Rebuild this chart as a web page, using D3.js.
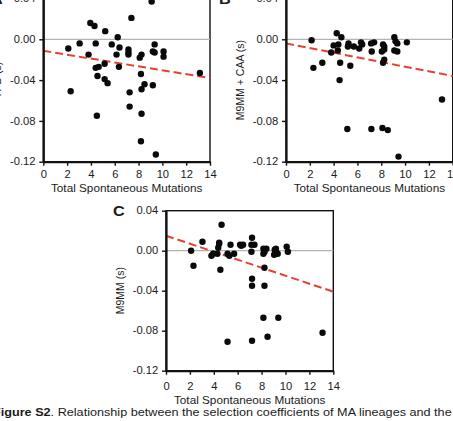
<!DOCTYPE html>
<html>
<head>
<meta charset="utf-8">
<script src="https://cdn.jsdelivr.net/npm/d3@7"></script>
<style>
    body { margin: 0; background: #fff; }
    svg { display: block; }
    text { font-family: "Liberation Sans", Arial, sans-serif; fill: #1b1b1b; }
</style>
</head>
<body>
<svg id="svg" width="453" height="421"></svg>
<script>

/**
 * DATA
 */
var xTicks = [0, 2, 4, 6, 8, 10, 12, 14];
var yTicks = [-0.12, -0.08, -0.04, 0, 0.04];
var xLabel = "Total Spontaneous Mutations";
var yLabels = ["YPD (s)", "M9MM + CAA (s)", "M9MM (s)"];
var panelLetters = ["A", "B", "C"];

// panel A
var mutationsA = [2.1, 2.3, 3.05, 3.8, 3.95, 4.3, 4.4, 4.4, 4.65, 4.55, 4.5, 5.15, 5.2, 5.15, 5.4, 5.75, 6.15, 6.25, 6.4, 6.35,
    7.4, 7.15, 7.15, 7.15, 7.25, 7.25, 8.1, 8.25, 8.2, 8.25, 8.5, 8.25, 8.2, 9.1, 9.2, 9.35, 9.35, 9.2, 9.45, 10.1, 10.1, 13.15];
var selectionA = [-0.009, -0.051, -0.004, -0.015, 0.016, 0.013, -0.004, -0.028, -0.027, -0.036, -0.075, -0.024, 0.008, -0.039, -0.043, -0.005, -0.015, 0.002, -0.008, -0.027,
    0.021, -0.010, -0.013, -0.015, -0.052, -0.066, -0.018, -0.015, -0.034, -0.049, -0.044, -0.073, -0.100, 0.037, -0.012, -0.005, -0.013, -0.045, -0.113, -0.012, -0.017, -0.033];
var fitA = [-0.0113, -0.038];

// panel B
var mutationsB = [2.15, 2.3, 3.05, 3.8, 4.0, 4.26, 4.4, 4.35, 4.65, 4.5, 4.55, 5.15, 5.2, 5.25, 5.4, 5.7, 6.15, 6.3, 6.4,
    7.15, 7.2, 7.4, 7.17, 8.1, 8.15, 8.25, 8.05, 8.25, 8.25, 8.15, 8.55, 9.1, 9.2, 9.35, 9.1, 9.35, 9.45, 10.15, 13.1];
var selectionB = [-0.001, -0.028, -0.023, -0.013, -0.006, 0.006, -0.005, -0.011, 0.002, -0.040, -0.023, -0.088, -0.007, -0.004, -0.026, -0.007, -0.009, -0.003, -0.005,
    -0.004, -0.012, -0.003, -0.088, -0.087, -0.005, -0.007, -0.012, -0.010, -0.020, -0.023, -0.089, 0.002, -0.002, -0.004, -0.011, -0.012, -0.115, -0.003, -0.059];
var fitB = [-0.004, -0.036];

// panel C
var mutationsC = [2.1, 2.3, 3.05, 3.8, 3.95, 4.3, 4.37, 4.45, 4.45, 4.65, 4.55, 5.15, 5.3, 5.4, 5.15, 5.7, 6.2, 6.3, 6.45,
    7.2, 7.15, 7.4, 7.15, 7.2, 7.2, 7.2, 8.15, 8.25, 8.15, 8.4, 8.24, 8.24, 8.15, 8.5, 9.1, 9.25, 9.05, 9.35, 9.2, 9.4, 10.1, 10.2, 13.1];
var selectionC = [0.000, -0.015, 0.009, -0.005, -0.003, -0.003, 0.003, 0.007, 0.008, 0.026, -0.019, -0.003, -0.005, 0.006, -0.091, -0.003, 0.006, 0.005, 0.006,
    0.013, 0.006, 0.006, -0.001, -0.028, -0.035, -0.090, 0.002, -0.001, -0.003, 0.002, -0.017, -0.035, -0.067, -0.086, 0.001, -0.002, -0.004, -0.003, 0.002, -0.067, 0.004, -0.001, -0.082];
var fitC = [0.015, -0.041];


/**
 * LAYOUT
 */
var svg = d3.select("#svg");
var stretch = 1.12;   // the scan is a bit wider than tall, so glyphs get widened

var panels = [
    { xs: mutationsA, ys: selectionA, fit: fitA, left: 43.3, right: 210, top: -1.5, bottom: 161.7, tickPad: 5, titleDy: 30, letterX: -9, letterY: 3.5 },
    { xs: mutationsB, ys: selectionB, fit: fitB, left: 286, right: 452.7, top: -1.5, bottom: 161.7, tickPad: 5, titleDy: 30, letterX: 219, letterY: 3.5 },
    { xs: mutationsC, ys: selectionC, fit: fitC, left: 166, right: 333.3, top: 210.7, bottom: 370.7, tickPad: 8, titleDy: 33.6, letterX: 113, letterY: 215.7 }
];


/* Draw one scatter panel */
function drawPanel(p, i) {
    var x = d3.scaleLinear().domain([0, 14]).range([p.left, p.right]);
    var y = d3.scaleLinear().domain([-0.12, 0.04]).range([p.bottom, p.top]);
    var g = svg.append("g");

    // frame
    g.append("rect")
        .attr("x", p.left).attr("y", p.top)
        .attr("width", p.right - p.left).attr("height", p.bottom - p.top)
        .attr("fill", "none").attr("stroke", "#111").attr("stroke-width", 1.4);

    // zero line
    g.append("line")
        .attr("x1", x(0)).attr("x2", x(14))
        .attr("y1", y(0)).attr("y2", y(0))
        .attr("stroke", "#b4b4b4").attr("stroke-width", 1.2);

    // regression
    g.append("line")
        .attr("x1", x(0)).attr("x2", x(14))
        .attr("y1", y(p.fit[0])).attr("y2", y(p.fit[1]))
        .attr("stroke", "#e8402e").attr("stroke-width", 2)
        .attr("stroke-dasharray", "8,4");

    // dots
    g.selectAll("circle")
        .data(p.xs.map(function(d, k) { return [d, p.ys[k]]; }))
        .enter().append("circle")
        .attr("cx", function(d) { return x(d[0]); })
        .attr("cy", function(d) { return y(d[1]); })
        .attr("r", 3.2)
        .attr("fill", "#0a0a0a");

    // axes
    var ax = g.append("g")
        .attr("transform", "translate(0," + p.bottom + ")")
        .call(d3.axisBottom(x).tickValues(xTicks).tickSize(4).tickSizeOuter(0).tickPadding(p.tickPad));
    var ay = g.append("g")
        .attr("transform", "translate(" + p.left + ",0)")
        .call(d3.axisLeft(y).tickValues(yTicks).tickSize(4).tickSizeOuter(0).tickPadding(3)
            .tickFormat(function(d) { return d.toFixed(2); }));

    [ax, ay].forEach(function(a) {
        a.select(".domain").attr("stroke", "#111").attr("stroke-width", 2.2);
        a.selectAll(".tick line").attr("stroke", "#111").attr("stroke-width", 1.4);
        a.selectAll(".tick text")
            .attr("font-size", 10).attr("fill", "#1b1b1b")
            .attr("font-family", "Liberation Sans, Arial, sans-serif")
            .attr("transform", "scale(" + stretch + ",1)");
    });

    // axis titles
    g.append("text")
        .attr("transform", "translate(" + (p.left + p.right) / 2 + "," + (p.bottom + p.titleDy) + ") scale(" + stretch + ",1)")
        .attr("text-anchor", "middle")
        .attr("font-size", 10.5)
        .text(xLabel);

    g.append("text")
        .attr("transform", "translate(" + (p.left - 42) + "," + (p.top + p.bottom) / 2 + ") rotate(-90) scale(1," + stretch + ")")
        .attr("text-anchor", "middle")
        .attr("font-size", 10.5)
        .text(yLabels[i]);

    // panel letter
    g.append("text")
        .attr("transform", "translate(" + p.letterX + "," + p.letterY + ") scale(1.08,1)")
        .attr("font-size", 15).attr("font-weight", "bold")
        .text(panelLetters[i]);
}

panels.forEach(drawPanel);


/* Caption */
var caption = svg.append("text")
    .attr("transform", "translate(-7,416) scale(" + stretch + ",1)")
    .attr("font-size", 11.3);
caption.append("tspan").attr("font-weight", "bold").text("Figure S2");
caption.append("tspan").text(". Relationship between the selection coefficients of MA lineages and the");

</script>
</body>
</html>
